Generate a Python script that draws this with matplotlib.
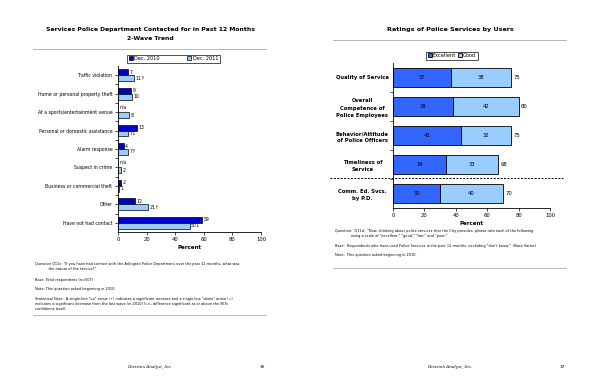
import matplotlib.pyplot as plt

# left chart: services contacted for
services = ["Traffic violation", "Home or personal property theft",
            "At a sports/entertainment venue", "Personal or domestic assistance",
            "Alarm response", "Suspect in crime", "Business or commercial theft",
            "Other", "Have not had contact"]
dec2010 = [7, 9, None, 13, 4, None, 2, 12, 59]
dec2011 = [11, 10, 8, 7, 7, 2, 1, 21, 50]
marks2011 = ["↑", "", "", "↓", "↑", "", "", "↑", "↓"]

# right chart: ratings
ratings = ["Quality of Service", "Overall\nCompetence of\nPolice Employees",
           "Behavior/Attitude\nof Police Officers", "Timeliness of\nService",
           "Comm. Ed. Svcs.\nby P.D."]
excellent = [37, 38, 43, 34, 30]
good = [38, 42, 32, 33, 40]
totals = [75, 80, 75, 68, 70]

W, H = 600, 388
DARK = "#0000cc"
LIGHT = "#99ccff"
EXC = "#3366ff"


def px(x0, y0, x1, y1):
    return [x0 / W, 1 - y1 / H, (x1 - x0) / W, (y1 - y0) / H]


fig = plt.figure(figsize=(6, 3.88), dpi=100)
fig.patch.set_facecolor("white")

def ftext(x, y, s, **kw):
    fig.text(x / W, 1 - y / H, s, **kw)

def hline(x0, x1, y, **kw):
    fig.add_artist(plt.Line2D([x0 / W, x1 / W], [1 - y / H, 1 - y / H], **kw))

# ---------------- left page ----------------
ftext(150, 30, "Services Police Department Contacted for in Past 12 Months",
      ha="center", va="center", fontsize=4.4, fontweight="bold")
ftext(150, 38.5, "2-Wave Trend", ha="center", va="center", fontsize=4.4, fontweight="bold")
hline(33, 266, 49, color="#aaaaaa", lw=0.6)

ax1 = fig.add_axes(px(118, 66, 261, 232))
n = len(services)
pos = list(range(n))
h = 0.32
v10 = [v if v is not None else 0 for v in dec2010]
ax1.barh([p - h / 2 for p in pos], v10, height=h, color=DARK, edgecolor="black",
         lw=0.5, label="Dec. 2010")
ax1.barh([p + h / 2 for p in pos], dec2011, height=h, color=LIGHT, edgecolor="black",
         lw=0.5, label="Dec. 2011")
for p, a, b, m in zip(pos, dec2010, dec2011, marks2011):
    ax1.text((a or 0) + 1, p - h / 2, "n/a" if a is None else str(a),
             va="bottom" if a is None else "center", ha="left", fontsize=3.3)
    ax1.text(b + 1, p + h / 2, str(b) + m, va="center", ha="left", fontsize=3.3)
ax1.set_xlim(0, 100)
ax1.set_ylim(n - 0.5, -0.5)
ax1.set_yticks(pos)
ax1.set_yticklabels(services, fontsize=3.3)
ax1.set_xticks([0, 20, 40, 60, 80, 100])
ax1.tick_params(axis="x", labelsize=3.8, length=2, width=0.5, pad=1.5)
ax1.tick_params(axis="y", length=2, width=0.5, pad=2)
ax1.set_xlabel("Percent", fontsize=4, fontweight="bold", labelpad=2)
for s in ["top", "right"]:
    ax1.spines[s].set_visible(False)
for s in ["left", "bottom"]:
    ax1.spines[s].set_linewidth(0.6)
ax1.set_yticks([p + 0.5 for p in pos[:-1]], minor=True)
ax1.tick_params(axis="y", which="minor", length=2, width=0.5)
leg1 = fig.legend(*ax1.get_legend_handles_labels(), loc="center",
                  bbox_to_anchor=(173.5 / W, 1 - 58.5 / H), ncol=2, fontsize=3.6,
                  frameon=True, fancybox=False, edgecolor="black", handlelength=0.8,
                  handleheight=0.8, columnspacing=5.5, handletextpad=0.3,
                  borderpad=0.3, borderaxespad=0)
leg1.get_frame().set_linewidth(0.6)

notes_l = [
    (262, "Question Q11c: \"If you have had contact with the Arlington Police Department over the past 12 months, what was\n            the nature of the service?\""),
    (278, "Base: Total respondents (n=507)"),
    (287, "Note: This question asked beginning in 2010."),
    (297, "Statistical Note:  A single-line \"up\" arrow (↑) indicates a significant increase and a single-line \"down\" arrow (↓)\nindicates a significant decrease from the last wave (in 2010) (i.e., difference significant at or above the 95%\nconfidence level)."),
]
for y, s in notes_l:
    ftext(35, y, s, ha="left", va="top", fontsize=2.5, linespacing=1.3)
hline(33, 266, 315, color="#aaaaaa", lw=0.6)
ftext(150, 367, "Decision Analyst, Inc.", ha="center", va="center", fontsize=3,
      style="italic", family="serif")
ftext(262, 367, "36", ha="center", va="center", fontsize=3.2)

# ---------------- right page ----------------
ftext(450, 29, "Ratings of Police Services by Users", ha="center", va="center",
      fontsize=4.6, fontweight="bold")
hline(333, 566, 40, color="#aaaaaa", lw=0.6)

ax2 = fig.add_axes(px(393, 63, 550, 208))
m = len(ratings)
pos2 = list(range(m))
ax2.barh(pos2, excellent, height=0.68, color=EXC, edgecolor="black", lw=0.6,
         label="Excellent")
ax2.barh(pos2, good, left=excellent, height=0.68, color=LIGHT, edgecolor="black",
         lw=0.6, label="Good")
for p, e, g, t in zip(pos2, excellent, good, totals):
    ax2.text(e / 2, p, str(e), ha="center", va="center", fontsize=3.8)
    ax2.text(e + g / 2, p, str(g), ha="center", va="center", fontsize=3.8)
    ax2.text(e + g + 1.5, p, str(t), ha="left", va="center", fontsize=3.8)
ax2.set_xlim(0, 100)
ax2.set_ylim(m - 0.5, -0.5)
ax2.set_yticks(pos2)
ax2.set_yticklabels(ratings, fontsize=3.8, fontweight="bold", ha="center",
                    linespacing=1.6)
ax2.tick_params(axis="y", length=0, pad=22)
ax2.set_yticks([p + 0.5 for p in pos2[:-1]], minor=True)
ax2.tick_params(axis="y", which="minor", length=2, width=0.5)
ax2.set_xticks([0, 20, 40, 60, 80, 100])
ax2.tick_params(axis="x", labelsize=3.8, length=2, width=0.5, pad=1.5)
ax2.set_xlabel("Percent", fontsize=4, fontweight="bold", labelpad=2)
for s in ["top", "right"]:
    ax2.spines[s].set_visible(False)
for s in ["left", "bottom"]:
    ax2.spines[s].set_linewidth(0.6)
hline(330, 563, 178, color="black", lw=0.7, ls=(0, (2, 1.5)))
leg2 = fig.legend(*ax2.get_legend_handles_labels(), loc="center",
                  bbox_to_anchor=(452 / W, 1 - 55.5 / H), ncol=2, fontsize=3.6,
                  frameon=True, fancybox=False, edgecolor="black", handlelength=0.8,
                  handleheight=0.8, columnspacing=0.4, handletextpad=0.2,
                  borderpad=0.3, borderaxespad=0)
leg2.get_frame().set_linewidth(0.6)

notes_r = [
    (229, "Question:  Q11d:  \"Now, thinking about police services that the City provides, please rate each of the following\n              using a scale of \"excellent,\" \"good,\" \"fair,\" and \"poor.\""),
    (244, "Base:  Respondents who have used Police Services in the past 12 months, excluding \"don't know.\"  (Base Varies)"),
    (253, "Note:  This question asked beginning in 2010."),
]
for y, s in notes_r:
    ftext(335, y, s, ha="left", va="top", fontsize=2.5, linespacing=1.3)
hline(333, 566, 268, color="#aaaaaa", lw=0.6)
ftext(450, 367, "Decision Analyst, Inc.", ha="center", va="center", fontsize=3,
      style="italic", family="serif")
ftext(562, 367, "37", ha="center", va="center", fontsize=3.2)

fig.savefig("out.png", dpi=100, facecolor="white")
